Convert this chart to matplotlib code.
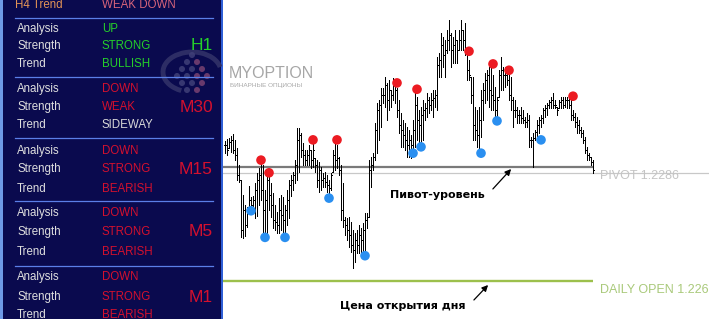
import numpy as np
import matplotlib
matplotlib.use("Agg")
import matplotlib.pyplot as plt
from matplotlib.patches import Rectangle, Arc, Circle

# ---------------- data ----------------
# bar prices in points (1e-5)
highs_pts = [
    122901, 122904, 122906, 122909, 122912, 122903, 122890, 122863, 122840, 122816,
    122800, 122797, 122830, 122813, 122814, 122835, 122851, 122859, 122866, 122863,
    122824, 122852, 122846, 122835, 122819, 122800, 122789, 122811, 122816, 122813,
    122800, 122824, 122840, 122847, 122852, 122871, 122922, 122922, 122914, 122898,
    122887, 122887, 122895, 122887, 122896, 122874, 122871, 122868, 122860, 122851,
    122852, 122847, 122840, 122851, 122887, 122898, 122895, 122876, 122863, 122835,
    122781, 122780, 122781, 122773, 122761, 122756, 122761, 122768, 122764, 122772,
    122787, 122787, 122871, 122876, 122882, 122930, 122961, 122966, 122985, 122985,
    123002, 122993, 122998, 122982, 123001, 122998, 122985, 122966, 122945, 122934,
    122930, 122923, 122919, 122911, 122934, 122977, 122971, 122950, 122955, 122966,
    122961, 122977, 122971, 122977, 122982, 122982, 123034, 123040, 123072, 123066,
    123061, 123077, 123092, 123072, 123066, 123077, 123061, 123077, 123092, 123077,
    123088, 123040, 123029, 123002, 123002, 122955, 122950, 122955, 122982, 122993,
    123009, 123013, 123018, 123017, 123006, 122986, 122971, 123013, 123034, 123018,
    123018, 123013, 123009, 123002, 122971, 122966, 122955, 122950, 122955, 122950,
    122939, 122945, 122942, 122908, 122914, 122919, 122934, 122939, 122942, 122953,
    122958, 122961, 122966, 122971, 122977, 122966, 122955, 122966, 122971, 122971,
    122971, 122971, 122969, 122966, 122950, 122945, 122939, 122934, 122923, 122919,
    122908, 122892, 122882, 122876, 122871,
]
lows_pts = [
    122882, 122879, 122890, 122884, 122882, 122871, 122840, 122836, 122749, 122748,
    122751, 122765, 122787, 122792, 122789, 122780, 122783, 122800, 122808, 122754,
    122751, 122753, 122792, 122781, 122764, 122761, 122756, 122756, 122761, 122754,
    122753, 122768, 122780, 122814, 122824, 122835, 122840, 122852, 122876, 122863,
    122863, 122863, 122863, 122859, 122860, 122852, 122828, 122821, 122824, 122828,
    122828, 122821, 122816, 122824, 122852, 122855, 122859, 122847, 122776, 122765,
    122753, 122745, 122734, 122726, 122701, 122710, 122724, 122724, 122726, 122724,
    122726, 122764, 122781, 122828, 122855, 122871, 122882, 122903, 122923, 122961,
    122955, 122934, 122950, 122955, 122966, 122961, 122939, 122914, 122892, 122892,
    122887, 122876, 122876, 122874, 122887, 122892, 122903, 122898, 122898, 122903,
    122934, 122939, 122945, 122950, 122939, 122955, 122950, 123002, 123002, 123018,
    123002, 123040, 123045, 123018, 123024, 123024, 123024, 123045, 123045, 123045,
    123037, 122998, 122998, 122961, 122903, 122903, 122892, 122882, 122908, 122934,
    122961, 122966, 122955, 122950, 122950, 122939, 122934, 122971, 122982, 122982,
    122986, 122990, 122966, 122950, 122923, 122939, 122930, 122930, 122930, 122930,
    122923, 122923, 122892, 122892, 122860, 122903, 122903, 122914, 122923, 122930,
    122939, 122942, 122953, 122953, 122953, 122953, 122942, 122953, 122953, 122953,
    122955, 122953, 122953, 122934, 122934, 122923, 122914, 122914, 122908, 122898,
    122882, 122871, 122871, 122863, 122851,
]
closes_pts = [
    122895, 122887, 122900, 122903, 122887, 122879, 122847, 122840, 122761, 122792,
    122768, 122789, 122808, 122800, 122808, 122824, 122840, 122847, 122824, 122792,
    122808, 122840, 122816, 122800, 122776, 122773, 122768, 122792, 122784, 122776,
    122792, 122808, 122832, 122840, 122847, 122863, 122903, 122911, 122887, 122879,
    122871, 122879, 122887, 122871, 122887, 122863, 122840, 122855, 122840, 122843,
    122836, 122832, 122827, 122847, 122879, 122871, 122874, 122855, 122792, 122776,
    122768, 122761, 122753, 122737, 122729, 122745, 122737, 122753, 122745, 122761,
    122776, 122781, 122855, 122863, 122876, 122919, 122950, 122958, 122974, 122974,
    122990, 122966, 122982, 122974, 122990, 122982, 122950, 122926, 122919, 122911,
    122903, 122895, 122903, 122895, 122919, 122958, 122934, 122926, 122942, 122950,
    122953, 122966, 122958, 122966, 122969, 122974, 123021, 123029, 123053, 123037,
    123045, 123061, 123069, 123045, 123053, 123061, 123045, 123061, 123077, 123061,
    123045, 123013, 123006, 122974, 122926, 122919, 122911, 122934, 122966, 122982,
    122998, 123006, 122982, 122974, 122966, 122950, 122966, 123006, 123013, 123006,
    123006, 122998, 122974, 122966, 122950, 122950, 122942, 122942, 122938, 122934,
    122931, 122934, 122903, 122903, 122906, 122915, 122926, 122934, 122938, 122950,
    122953, 122958, 122963, 122966, 122958, 122958, 122950, 122963, 122966, 122958,
    122966, 122966, 122958, 122942, 122939, 122931, 122926, 122919, 122914, 122903,
    122887, 122879, 122876, 122868, 122855,
]
fractal_up_idx = [18, 22, 44, 56, 86, 96, 122, 134, 142, 174]
fractal_up_pts = [122871, 122851, 122903, 122903, 122993, 122983, 123043, 123023, 123013, 122972]
fractal_dn_idx = [13, 20, 30, 52, 70, 94, 98, 128, 136, 158]
fractal_dn_pts = [122791, 122749, 122749, 122811, 122720, 122882, 122892, 122882, 122933, 122903]

pivot = 1.2286
daily_open = 1.2268
bid = 1.22851

h4_label, h4_value = "H4 Trend", "WEAK DOWN"
timeframes = ["H1", "M30", "M15", "M5", "M1"]
analysis = ["UP", "DOWN", "DOWN", "DOWN", "DOWN"]
strength = ["STRONG", "WEAK", "STRONG", "STRONG", "STRONG"]
trend = ["BULLISH", "SIDEWAY", "BEARISH", "BEARISH", "BEARISH"]

highs = np.array(highs_pts) / 1e5
lows = np.array(lows_pts) / 1e5
closes = np.array(closes_pts) / 1e5
opens = np.clip(np.concatenate([[closes[0]], closes[:-1]]), lows, highs)
x = np.arange(len(highs))

# ---------------- figure ----------------
W, H = 709, 319
fig = plt.figure(figsize=(W / 100, H / 100), dpi=100)
fig.patch.set_facecolor("white")

# chart axes
axc = fig.add_axes([222 / W, 0, (W - 222) / W, 1])
axc.set_facecolor("white")
xmin = -1.5
axc.set_xlim(xmin, xmin + (W - 222) / 2.0)
axc.set_ylim(1.22620, 1.23124)
axc.axis("off")

last = x[-1]
axc.hlines(bid, xmin, xmin + (W - 222) / 2.0, color="#c8c8c8", lw=0.9, zorder=1)
axc.hlines(pivot, xmin, last, color="#7a7a7a", lw=1.6, zorder=2)
axc.hlines(daily_open, xmin, last, color="#9cc04c", lw=1.7, zorder=2)

axc.vlines(x, lows, highs, color="black", lw=0.72, zorder=3, antialiased=False)
axc.hlines(opens, x - 0.6, x, color="black", lw=0.72, zorder=3, antialiased=False)
axc.hlines(closes, x, x + 0.6, color="black", lw=0.72, zorder=3, antialiased=False)

axc.scatter(fractal_up_idx, np.array(fractal_up_pts) / 1e5, s=48, color="#ec1b22",
            edgecolors="none", zorder=4)
axc.scatter(fractal_dn_idx, np.array(fractal_dn_pts) / 1e5, s=48, color="#2a8ff0",
            edgecolors="none", zorder=4)

axc.annotate(f"PIVOT {pivot:.4f}", xy=(last + 3.5, pivot), xytext=(0, -2),
             textcoords="offset points", va="top", ha="left", fontsize=9,
             color="#c4c4c4", family="Liberation Sans")
axc.annotate(f"DAILY OPEN {daily_open:.4f}", xy=(last + 3.5, daily_open), xytext=(0, -2),
             textcoords="offset points", va="top", ha="left", fontsize=9,
             color="#a9c97a", family="Liberation Sans")

# overlay (pixel coordinates) for panel, watermark and annotations
ax = fig.add_axes([0, 0, 1, 1])
ax.set_xlim(0, W)
ax.set_ylim(H, 0)
ax.axis("off")
ax.patch.set_alpha(0)

ax.add_patch(Rectangle((0, 0), 222, H, facecolor="#0a0a4e", edgecolor="none", zorder=0))
ax.add_patch(Rectangle((0, 0), 3, H, facecolor="#6f9ae6", edgecolor="none", zorder=1))
ax.add_patch(Rectangle((220.5, 0), 2.5, H, facecolor="#2f5fd6", edgecolor="none", zorder=1))

# logo (dots pyramid + swoosh)
ax.add_patch(Arc((192, 72), 58, 40, theta1=120, theta2=350, lw=3.5, color="#34346a",
                 alpha=0.85, zorder=1))
logo_rows = [(55, [192]), (62, [187, 197]), (69, [182, 192, 202]),
             (76, [177, 187, 197, 207]), (83, [182, 192, 202]), (90, [187, 197])]
for yy, xs in logo_rows:
    for xx in xs:
        col = "#7a4272" if xx >= 197 else "#404078"
        ax.add_patch(Circle((xx, yy), 3.0, facecolor=col, edgecolor="none", alpha=0.85, zorder=1))

ff = "Liberation Sans"
ax.text(15, 5, h4_label, color="#e39356", fontsize=8.3, va="center", family=ff, zorder=3)
ax.text(102, 5, h4_value, color="#d8647a", fontsize=8.3, va="center", family=ff, zorder=3)

sep_y = [18, 77, 138, 201, 266]
row_y = [(29, 46, 64), (89, 107, 125), (151, 169, 189), (213, 232, 252), (277, 297, 315)]
for yy in sep_y:
    ax.plot([15, 213], [yy, yy], color="#5b7fe8", lw=0.9, zorder=2)

green = "#25d02a"
red = "#d4102e"
for k, tf in enumerate(timeframes):
    ya, ys, yt = row_y[k]
    for yy, lab in zip((ya, ys, yt), ("Analysis", "Strength", "Trend")):
        ax.text(17, yy, lab, color="#dedede", fontsize=8.3, va="center", family=ff, zorder=3)
    up = analysis[k] == "UP"
    c_val = green if up else red
    ax.text(102, ya, analysis[k], color=c_val, fontsize=8.3, va="center", family=ff, zorder=3)
    ax.text(102, ys, strength[k], color=c_val, fontsize=8.3, va="center", family=ff, zorder=3)
    c_tr = green if trend[k] == "BULLISH" else ("#d8d8d8" if trend[k] == "SIDEWAY" else red)
    ax.text(102, yt, trend[k], color=c_tr, fontsize=8.3, va="center", family=ff, zorder=3)
    ax.text(213, ys, tf, color=c_val, fontsize=12.5, va="center", ha="right", family=ff, zorder=3)

# watermark
ax.text(229, 73.5, "MYOPTION", color="#a6a6a6", fontsize=11.5, va="center", ha="left",
        family=ff, zorder=3)
ax.text(230, 86, "БИНАРНЫЕ ОПЦИОНЫ", color="#a8a8a8", fontsize=4.6, va="center",
        ha="left", family=ff, zorder=3)

# annotations
ax.text(390, 195, "Пивот-уровень", fontsize=8, fontweight="bold", va="center", ha="left",
        family="DejaVu Sans", color="black", zorder=3)
ax.annotate("", xy=(513, 167), xytext=(491, 191),
            arrowprops=dict(arrowstyle="-|>", color="black", lw=0.9, mutation_scale=9), zorder=3)
ax.text(340, 306, "Цена открытия дня", fontsize=8, fontweight="bold", va="center", ha="left",
        family="DejaVu Sans", color="black", zorder=3)
ax.annotate("", xy=(490, 283), xytext=(472, 302),
            arrowprops=dict(arrowstyle="-|>", color="black", lw=0.9, mutation_scale=9), zorder=3)

fig.savefig("out.png", dpi=100, facecolor="white")
